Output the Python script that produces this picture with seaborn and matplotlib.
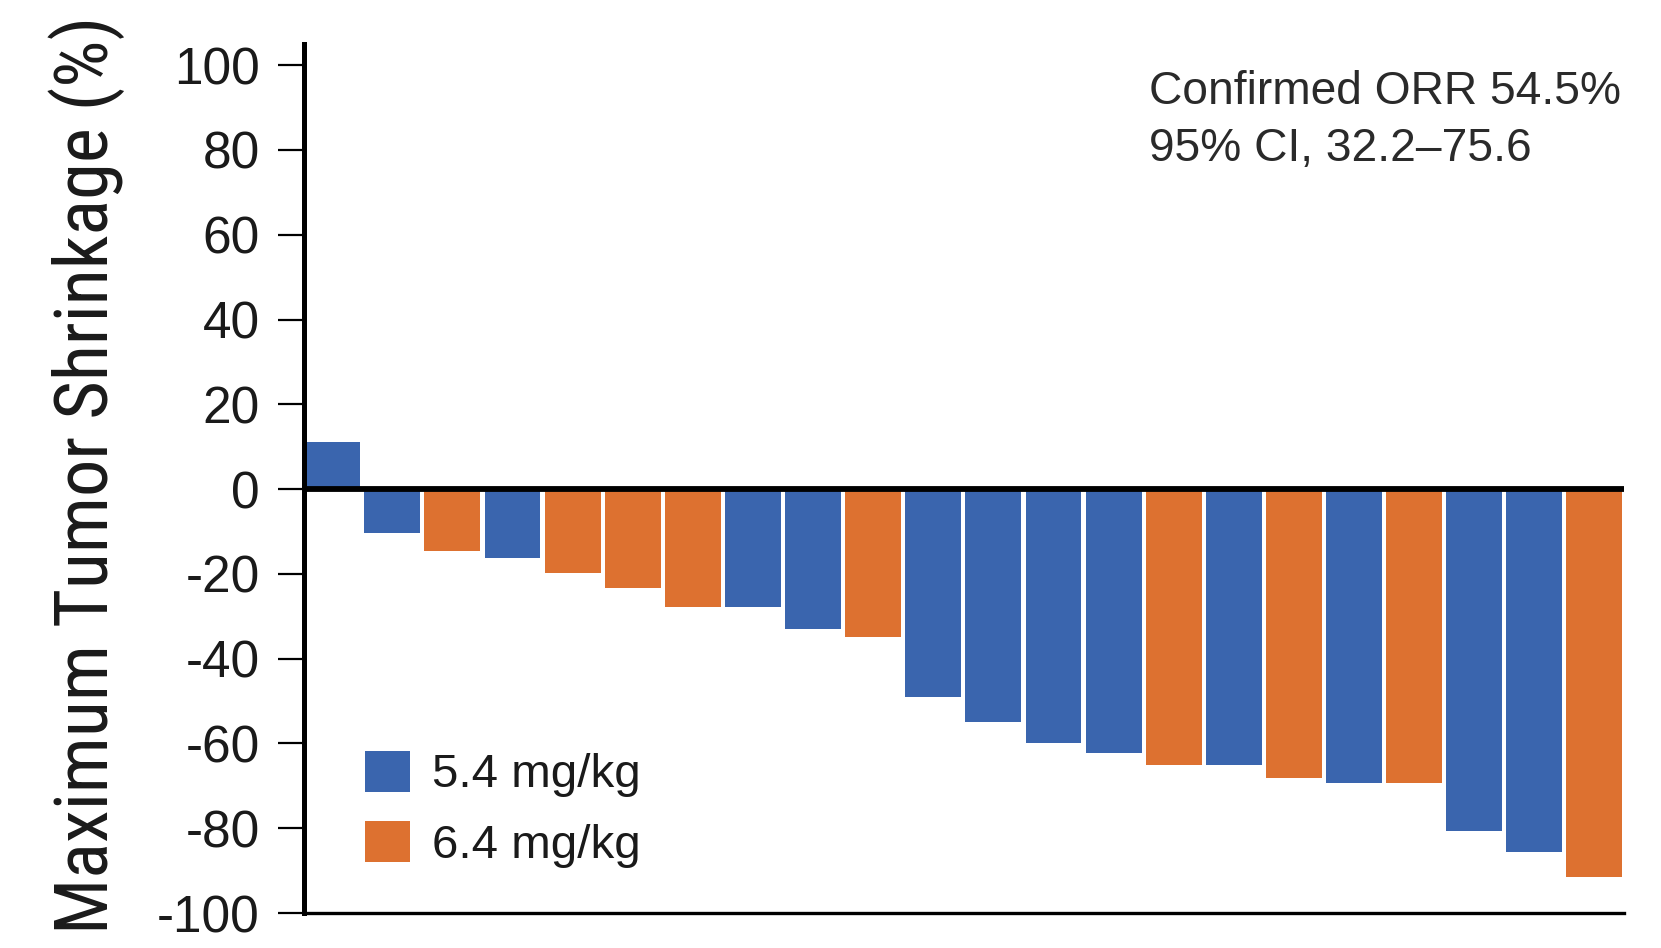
import matplotlib
matplotlib.use("Agg")
import matplotlib.pyplot as plt
import seaborn as sns
import pandas as pd
from matplotlib.patches import Patch
from matplotlib.ticker import FuncFormatter
from matplotlib import font_manager as fm

# ---- data ----
patients = [f"P{i+1}" for i in range(22)]
shrinkage = [11.0, -10.4, -14.5, -16.3, -19.9, -23.4, -27.7, -27.7, -33.0, -34.8,
             -49.1, -55.0, -59.8, -62.3, -65.2, -65.2, -68.2, -69.3, -69.3,
             -80.6, -85.5, -91.4]
dose = ["5.4 mg/kg", "5.4 mg/kg", "6.4 mg/kg", "5.4 mg/kg", "6.4 mg/kg", "6.4 mg/kg",
        "6.4 mg/kg", "5.4 mg/kg", "5.4 mg/kg", "6.4 mg/kg", "5.4 mg/kg", "5.4 mg/kg",
        "5.4 mg/kg", "5.4 mg/kg", "6.4 mg/kg", "5.4 mg/kg", "6.4 mg/kg", "5.4 mg/kg",
        "6.4 mg/kg", "5.4 mg/kg", "5.4 mg/kg", "6.4 mg/kg"]
dose_levels = ["5.4 mg/kg", "6.4 mg/kg"]
colors = {"5.4 mg/kg": "#3A65AE", "6.4 mg/kg": "#DD7130"}
yticks = [100, 80, 60, 40, 20, 0, -20, -40, -60, -80, -100]
annotation = ["Confirmed ORR 54.5%", "95% CI, 32.2\u201375.6"]
ylabel = "Maximum Tumor Shrinkage (%)"

df = pd.DataFrame({"patient": patients, "shrinkage": shrinkage, "dose": dose})


def first_font(cands, default):
    for c in cands:
        try:
            fm.findfont(fm.FontProperties(family=c), fallback_to_default=False)
            return c
        except Exception:
            continue
    return default


cond_font = first_font(["Roboto Condensed", "Archivo Narrow", "PT Sans Narrow",
                        "Liberation Sans Narrow", "Open Sans Condensed"], "Liberation Sans")

sns.set_style("white")
plt.rcParams["font.family"] = ["Liberation Sans", "DejaVu Sans"]
plt.rcParams["axes.unicode_minus"] = False

fig = plt.figure(figsize=(16.61, 9.48), dpi=100)
ax = fig.add_axes([0.183, 0.0369, 0.795, 0.9167])

sns.barplot(data=df, x="patient", y="shrinkage", hue="dose", order=patients,
            hue_order=dose_levels, palette=colors, dodge=False, width=0.93,
            saturation=1, legend=False, edgecolor="none", ax=ax)

ax.set_xlim(-0.47, len(patients) - 0.5)
ax.set_ylim(-100, 105)
ax.axhline(0, color="black", lw=4.2, zorder=5)

ax.set_xticks([])
ax.set_xlabel("")
ax.set_yticks(yticks)
ax.yaxis.set_major_formatter(FuncFormatter(lambda v, p: f"{int(v)}"))
ax.tick_params(axis="y", direction="out", length=19, width=1.6, color="black",
               labelsize=37, labelcolor="#1a1a1a", pad=13, left=True)

for s in ["top", "right"]:
    ax.spines[s].set_visible(False)
ax.spines["left"].set_linewidth(3.6)
ax.spines["left"].set_color("black")
ax.spines["bottom"].set_linewidth(2.4)
ax.spines["bottom"].set_color("black")

ax.set_ylabel("")
ylab = fig.text(0.052, 0.499, ylabel, rotation=90, ha="center", va="center",
                fontsize=52, color="#1a1a1a", family=[cond_font, "DejaVu Sans"])
fig.canvas.draw()
bb = ylab.get_window_extent()
ylab.set_fontsize(52 * 920.0 / bb.height)

ax.text(0.692, 0.873, annotation[0] + "\n" + annotation[1],
        transform=fig.transFigure, ha="left", va="center", fontsize=33.2,
        color="#2a2a2a", linespacing=1.36)

handles = [Patch(facecolor=colors[d], edgecolor="none", label=d) for d in dose_levels]
leg = ax.legend(handles=handles, loc="lower left", bbox_to_anchor=(0.032, 0.030),
                frameon=False, fontsize=34.2, handlelength=0.95, handleheight=0.95,
                handletextpad=0.45, labelspacing=0.5, borderaxespad=0)
for t in leg.get_texts():
    t.set_color("#1a1a1a")

fig.savefig("out.png", dpi=100)
